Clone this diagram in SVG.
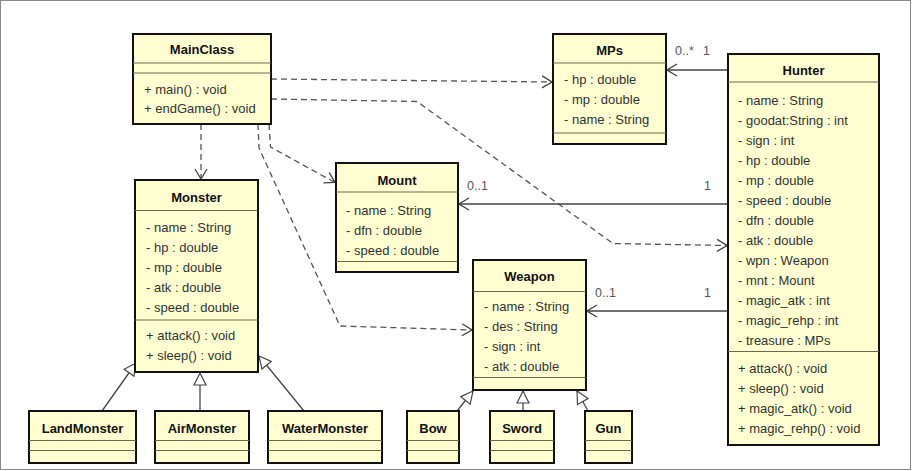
<svg xmlns="http://www.w3.org/2000/svg" width="914" height="471" viewBox="0 0 914 471">
<style>
.box{fill:#ffffd2;stroke:#111;stroke-width:2}
.div{stroke:#6a6a50;stroke-width:1.2}
.title{font-family:"Liberation Sans",Arial,sans-serif;font-size:13px;font-weight:bold;fill:#111;text-anchor:middle}
.attr{font-family:"Liberation Sans",Arial,sans-serif;font-size:13px;fill:#333}
.lbl{font-family:"Liberation Sans",Arial,sans-serif;font-size:12.5px;fill:#555}
.dep{fill:none;stroke:#555;stroke-width:1.3;stroke-dasharray:6,4;marker-end:url(#open)}
.assoc{fill:none;stroke:#444;stroke-width:1.3;marker-end:url(#open)}
.gen{fill:none;stroke:#444;stroke-width:1.3;marker-end:url(#tri)}
</style>
<defs>
<marker id="open" viewBox="0 0 12 14" refX="11" refY="7" markerWidth="12" markerHeight="14" markerUnits="userSpaceOnUse" orient="auto">
<path d="M1,1 L11,7 L1,13" fill="none" stroke="#444" stroke-width="1.3"/>
</marker>
<marker id="tri" viewBox="0 0 14 14" refX="13" refY="7" markerWidth="14" markerHeight="14" markerUnits="userSpaceOnUse" orient="auto">
<path d="M1,1 L13,7 L1,13 Z" fill="#fff" stroke="#444" stroke-width="1.2"/>
</marker>
</defs>
<rect x="0" y="0" width="914" height="471" fill="#fff"/>
<rect x="0.5" y="0.5" width="910" height="469" fill="none" stroke="#888" stroke-width="1"/>

<g id="connectors">
<path class="dep" d="M271,79 L552,82"/>
<path class="dep" d="M271,99 L417,101.5 L613,243.5 L727,245.5"/>
<path class="dep" d="M201,124 L201,179"/>
<path class="dep" d="M269,124 L270.5,147 L335,182.5"/>
<path class="dep" d="M258,124 L259,148 L340,326 L472,330"/>
<path class="assoc" d="M728,70 L667,70"/>
<path class="assoc" d="M728,204 L459,204"/>
<path class="assoc" d="M728,311 L587,311"/>
<path class="gen" d="M102,411 L136,363"/>
<path class="gen" d="M200,411 L200,373"/>
<path class="gen" d="M304,411 L259,356"/>
<path class="gen" d="M457,411 L473,391"/>
<path class="gen" d="M523,411 L523,391"/>
<path class="gen" d="M588,411 L577,391"/>
<text class="lbl" x="675" y="55">0..*</text>
<text class="lbl" x="703" y="55">1</text>
<text class="lbl" x="467" y="189.5">0..1</text>
<text class="lbl" x="704" y="189.5">1</text>
<text class="lbl" x="595" y="297">0..1</text>
<text class="lbl" x="704" y="297">1</text>
</g>

<g id="MainClass">
<rect class="box" x="133" y="34" width="138" height="90"/>
<line class="div" x1="133" y1="63" x2="271" y2="63"/>
<line class="div" x1="133" y1="73" x2="271" y2="73"/>
<text class="title" x="202" y="54">MainClass</text>
<text class="attr" x="144" y="93.5">+ main() : void</text>
<text class="attr" x="144" y="113">+ endGame() : void</text>
</g>

<g id="MPs">
<rect class="box" x="553" y="34" width="113" height="110"/>
<line class="div" x1="553" y1="63" x2="666" y2="63"/>
<line class="div" x1="553" y1="133" x2="666" y2="133"/>
<text class="title" x="609.5" y="54.5">MPs</text>
<text class="attr" x="564" y="83.5">- hp : double</text>
<text class="attr" x="564" y="103.5">- mp : double</text>
<text class="attr" x="564" y="123.5">- name : String</text>
</g>

<g id="Hunter">
<rect class="box" x="728" y="54" width="151" height="391"/>
<line class="div" x1="728" y1="82" x2="879" y2="82"/>
<line class="div" x1="728" y1="351.5" x2="879" y2="351.5"/>
<text class="title" x="803.5" y="74.5">Hunter</text>
<text class="attr" x="738" y="104.5">- name : String</text>
<text class="attr" x="738" y="124.5">- goodat:String : int</text>
<text class="attr" x="738" y="144.5">- sign : int</text>
<text class="attr" x="738" y="164.5">- hp : double</text>
<text class="attr" x="738" y="184.5">- mp : double</text>
<text class="attr" x="738" y="204.5">- speed : double</text>
<text class="attr" x="738" y="224.5">- dfn : double</text>
<text class="attr" x="738" y="244.5">- atk : double</text>
<text class="attr" x="738" y="264.5">- wpn : Weapon</text>
<text class="attr" x="738" y="284.5">- mnt : Mount</text>
<text class="attr" x="738" y="304.5">- magic_atk : int</text>
<text class="attr" x="738" y="324.5">- magic_rehp : int</text>
<text class="attr" x="738" y="344.5">- treasure : MPs</text>
<text class="attr" x="738" y="372.5">+ attack() : void</text>
<text class="attr" x="738" y="392.5">+ sleep() : void</text>
<text class="attr" x="738" y="412.5">+ magic_atk() : void</text>
<text class="attr" x="738" y="432.5">+ magic_rehp() : void</text>
</g>

<g id="Monster">
<rect class="box" x="135" y="180" width="123" height="192"/>
<line class="div" x1="135" y1="210.5" x2="258" y2="210.5"/>
<line class="div" x1="135" y1="320" x2="258" y2="320"/>
<text class="title" x="196.5" y="201.5">Monster</text>
<text class="attr" x="146" y="231.8">- name : String</text>
<text class="attr" x="146" y="251.8">- hp : double</text>
<text class="attr" x="146" y="271.8">- mp : double</text>
<text class="attr" x="146" y="291.8">- atk : double</text>
<text class="attr" x="146" y="311.8">- speed : double</text>
<text class="attr" x="146" y="339.5">+ attack() : void</text>
<text class="attr" x="146" y="359.5">+ sleep() : void</text>
</g>

<g id="Mount">
<rect class="box" x="336" y="163" width="122" height="109"/>
<line class="div" x1="336" y1="192" x2="458" y2="192"/>
<line class="div" x1="336" y1="261.5" x2="458" y2="261.5"/>
<text class="title" x="397" y="184.5">Mount</text>
<text class="attr" x="346" y="214.5">- name : String</text>
<text class="attr" x="346" y="234.5">- dfn : double</text>
<text class="attr" x="346" y="254.5">- speed : double</text>
</g>

<g id="Weapon">
<rect class="box" x="473" y="260" width="113" height="130"/>
<line class="div" x1="473" y1="291.5" x2="586" y2="291.5"/>
<line class="div" x1="473" y1="377.5" x2="586" y2="377.5"/>
<text class="title" x="529.5" y="280.5">Weapon</text>
<text class="attr" x="484" y="311">- name : String</text>
<text class="attr" x="484" y="331">- des : String</text>
<text class="attr" x="484" y="351">- sign : int</text>
<text class="attr" x="484" y="371">- atk : double</text>
</g>

<g id="LandMonster">
<rect class="box" x="29" y="411" width="107" height="52"/>
<line class="div" x1="29" y1="440.5" x2="136" y2="440.5"/>
<line class="div" x1="29" y1="450.5" x2="136" y2="450.5"/>
<text class="title" x="82.5" y="433">LandMonster</text>
</g>

<g id="AirMonster">
<rect class="box" x="155" y="411" width="94" height="52"/>
<line class="div" x1="155" y1="440.5" x2="249" y2="440.5"/>
<line class="div" x1="155" y1="450.5" x2="249" y2="450.5"/>
<text class="title" x="202" y="433">AirMonster</text>
</g>

<g id="WaterMonster">
<rect class="box" x="268" y="411" width="114" height="52"/>
<line class="div" x1="268" y1="440.5" x2="382" y2="440.5"/>
<line class="div" x1="268" y1="450.5" x2="382" y2="450.5"/>
<text class="title" x="325" y="433">WaterMonster</text>
</g>

<g id="Bow">
<rect class="box" x="407" y="411" width="52" height="52"/>
<line class="div" x1="407" y1="440.5" x2="459" y2="440.5"/>
<line class="div" x1="407" y1="450.5" x2="459" y2="450.5"/>
<text class="title" x="433" y="433">Bow</text>
</g>

<g id="Sword">
<rect class="box" x="490" y="411" width="64" height="52"/>
<line class="div" x1="490" y1="440.5" x2="554" y2="440.5"/>
<line class="div" x1="490" y1="450.5" x2="554" y2="450.5"/>
<text class="title" x="522" y="433">Sword</text>
</g>

<g id="Gun">
<rect class="box" x="585" y="411" width="47" height="52"/>
<line class="div" x1="585" y1="440.5" x2="632" y2="440.5"/>
<line class="div" x1="585" y1="450.5" x2="632" y2="450.5"/>
<text class="title" x="608.5" y="433">Gun</text>
</g>
</svg>
